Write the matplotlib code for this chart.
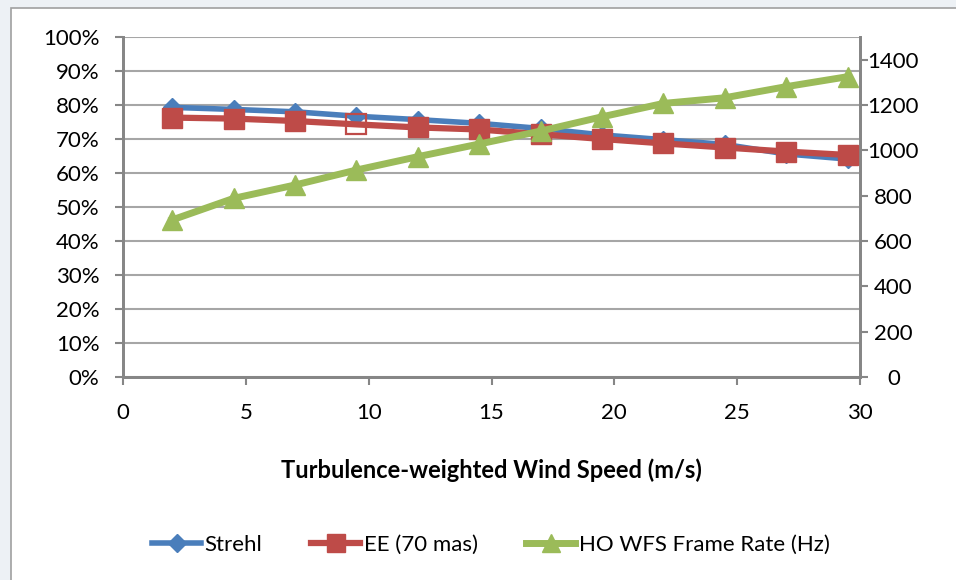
import matplotlib

matplotlib.use("Agg")
import matplotlib.pyplot as plt
from matplotlib.patches import Rectangle
from matplotlib.ticker import FuncFormatter, MultipleLocator

# wind speed (m/s)
wind_speed = [2, 4.5, 7, 9.5, 12, 14.5, 17, 19.5, 22, 24.5, 27, 29.5]
strehl = [0.793, 0.787, 0.780, 0.767, 0.757, 0.746, 0.731, 0.712, 0.698, 0.684, 0.656, 0.641]
ee_70mas = [0.763, 0.760, 0.753, 0.743, 0.734, 0.728, 0.714, 0.700, 0.687, 0.675, 0.663, 0.653]
frame_rate = [693, 788, 847, 913, 972, 1028, 1085, 1148, 1207, 1232, 1281, 1325]

labels = ["Strehl", "EE (70 mas)", "HO WFS Frame Rate (Hz)"]
x_label = "Turbulence-weighted Wind Speed (m/s)"

BLUE, RED, GREEN = "#4A7EBB", "#BE4B48", "#9BBB59"
AXIS_GREY, GRID_GREY = "#868686", "#A6A6A6"

plt.rcParams["font.family"] = ["Lato", "DejaVu Sans"]

fig = plt.figure(figsize=(9.56, 5.8), dpi=100)
fig.patch.set_facecolor("#EDF1F5")
fig.patches.append(Rectangle((11 / 956, -0.02), 1.1, 1 - 8 / 580 + 0.02, transform=fig.transFigure,
                             facecolor="white", edgecolor="#A0A0A0", linewidth=1.2, zorder=-1))

ax = fig.add_axes([123 / 956, 1 - 377 / 580, (860 - 123) / 956, (377 - 37) / 580])
ax.set_facecolor("none")
ax2 = ax.twinx()

ax.set_xlim(0, 30)
ax.set_ylim(0, 1.0)
ax2.set_ylim(0, 1500)

ax.xaxis.set_major_locator(MultipleLocator(5))
ax.yaxis.set_major_locator(MultipleLocator(0.1))
ax.yaxis.set_major_formatter(FuncFormatter(lambda v, _: f"{v * 100:.0f}%"))
ax2.set_yticks(range(0, 1401, 200))

ax.grid(axis="y", color=GRID_GREY, linewidth=1.5)
ax.set_axisbelow(True)

for a in (ax, ax2):
    a.spines["top"].set_visible(False)
    for side in ("left", "right", "bottom"):
        a.spines[side].set_color(AXIS_GREY)
        a.spines[side].set_linewidth(2)

ax.tick_params(axis="y", direction="out", length=6, width=1.5, color=AXIS_GREY,
               labelsize=16, pad=11)
ax.tick_params(axis="x", direction="out", length=6, width=1.5, color=AXIS_GREY,
               labelsize=16, pad=13)
ax2.tick_params(axis="y", direction="out", length=6, width=1.5, color=AXIS_GREY,
                labelsize=16, pad=18)
for t in ax2.get_yticklabels():
    t.set_horizontalalignment("center")

# the frame-rate series sits on the secondary axis, so draw the primary series on ax2 too
to_rate = 1500.0
ax2.plot(wind_speed, [v * to_rate for v in strehl], color=BLUE, linewidth=4, marker="D",
         markersize=9, zorder=3)
solid = [i for i in range(len(wind_speed)) if i != 3]
ax2.plot(wind_speed, [v * to_rate for v in ee_70mas], color=RED, linewidth=4.5, marker="s",
         markersize=14, markevery=solid, zorder=4)
ax2.plot(wind_speed[3], ee_70mas[3] * to_rate, linestyle="none", marker="s", markersize=14,
         markerfacecolor="none", markeredgecolor=RED, markeredgewidth=1.6, zorder=4)
ax2.plot(wind_speed, frame_rate, color=GREEN, linewidth=5, marker="^", markersize=14, zorder=5)

ax.set_xlabel(x_label, fontsize=17, fontweight="bold", labelpad=25)

handles = [
    plt.Line2D([], [], color=BLUE, linewidth=4, marker="D", markersize=9),
    plt.Line2D([], [], color=RED, linewidth=4.5, marker="s", markersize=13),
    plt.Line2D([], [], color=GREEN, linewidth=5, marker="^", markersize=13),
]
fig.legend(handles, labels, loc="center", bbox_to_anchor=(491 / 956, 1 - 545 / 580), ncol=3,
           frameon=False, fontsize=16, handlelength=2.2, handletextpad=0.15, columnspacing=2.2)

fig.savefig("out.png", dpi=100, facecolor=fig.get_facecolor())
